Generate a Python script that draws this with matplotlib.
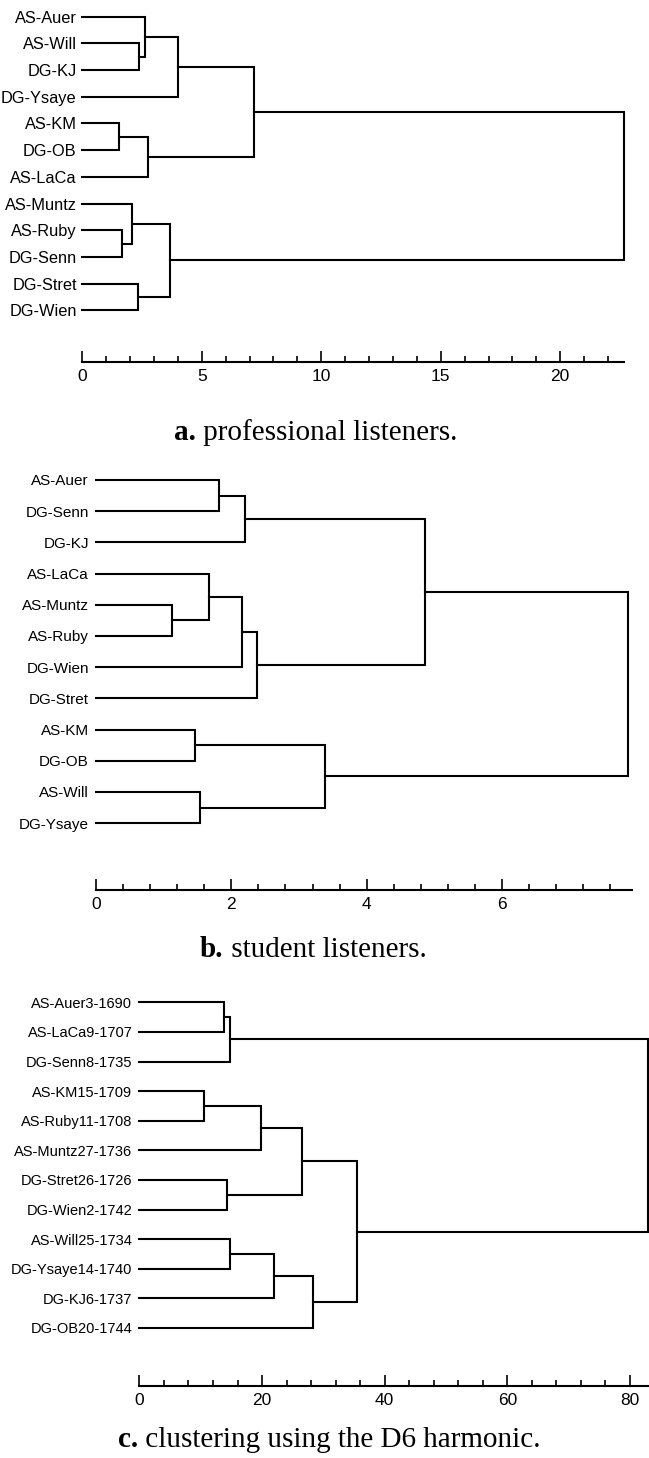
import matplotlib
matplotlib.use("Agg")
import matplotlib.pyplot as plt
from matplotlib.ticker import MultipleLocator

# panel a: professional listeners
labels_a = ["AS-Auer", "AS-Will", "DG-KJ", "DG-Ysaye", "AS-KM", "DG-OB", "AS-LaCa",
            "AS-Muntz", "AS-Ruby", "DG-Senn", "DG-Stret", "DG-Wien"]
# merges: (child, child, height); leaves 0..n-1, new clusters n, n+1, ...
merges_a = [(1, 2, 2.39), (0, 12, 2.62), (13, 3, 4.02), (4, 5, 1.55), (15, 6, 2.76),
            (14, 16, 7.18), (8, 9, 1.65), (7, 18, 2.07), (10, 11, 2.32), (19, 20, 3.67),
            (17, 21, 22.67)]
ticks_a = [0, 5, 10, 15, 20]

# panel b: student listeners
labels_b = ["AS-Auer", "DG-Senn", "DG-KJ", "AS-LaCa", "AS-Muntz", "AS-Ruby", "DG-Wien",
            "DG-Stret", "AS-KM", "DG-OB", "AS-Will", "DG-Ysaye"]
merges_b = [(0, 1, 1.82), (12, 2, 2.21), (4, 5, 1.13), (3, 14, 1.67), (15, 6, 2.16),
            (16, 7, 2.38), (13, 17, 4.86), (8, 9, 1.47), (10, 11, 1.54), (19, 20, 3.39),
            (18, 21, 7.86)]
ticks_b = [0, 2, 4, 6]

# panel c: D6 harmonic
labels_c = ["AS-Auer3-1690", "AS-LaCa9-1707", "DG-Senn8-1735", "AS-KM15-1709",
            "AS-Ruby11-1708", "AS-Muntz27-1736", "DG-Stret26-1726", "DG-Wien2-1742",
            "AS-Will25-1734", "DG-Ysaye14-1740", "DG-KJ6-1737", "DG-OB20-1744"]
merges_c = [(0, 1, 13.85), (12, 2, 14.78), (3, 4, 10.54), (14, 5, 19.79), (6, 7, 14.34),
            (15, 16, 26.47), (8, 9, 14.78), (18, 10, 21.96), (19, 11, 28.37),
            (17, 20, 35.5), (13, 21, 83.0)]
ticks_c = [0, 20, 40, 60, 80]

captions = [("a.", " professional listeners."),
            ("b.", " student listeners."),
            ("c.", " clustering using the D6 harmonic.")]

W, H = 649, 1458
fig = plt.figure(figsize=(W / 100, H / 100), dpi=100)
fig.patch.set_facecolor("white")

sans = ["Liberation Sans", "DejaVu Sans"]
serif = ["Liberation Serif", "DejaVu Serif"]


def dendro(labels, merges, ticks, minor, x0, x1, xmax, ytop, step, yaxis, lab_size, lab_pad=5):
    n = len(labels)
    top = ytop - 0.6 * step
    ax = fig.add_axes([x0 / W, 1 - yaxis / H, (x1 - x0) / W, (yaxis - top) / H])
    pos = {i: (0.0, float(i)) for i in range(n)}
    for k, (a, b, h) in enumerate(merges):
        xa, ya = pos[a]
        xb, yb = pos[b]
        ax.plot([xa, h, h, xb], [ya, ya, yb, yb], color="black", lw=1.5,
                solid_joinstyle="miter", clip_on=False)
        pos[n + k] = (h, (ya + yb) / 2)
    ax.set_xlim(0, xmax)
    ax.set_ylim((yaxis - ytop) / step, -0.6)
    for s in ["top", "right", "left"]:
        ax.spines[s].set_visible(False)
    ax.spines["bottom"].set_linewidth(1.5)
    ax.set_xticks(ticks)
    ax.xaxis.set_minor_locator(MultipleLocator(minor))
    ax.tick_params(axis="x", which="major", direction="in", length=8, width=1.2,
                   pad=5, labelsize=12.5)
    ax.tick_params(axis="x", which="minor", direction="in", length=4, width=1.2)
    for t in ax.get_xticklabels():
        t.set_family(sans)
    ax.set_yticks(range(n))
    ax.set_yticklabels(labels, family=sans, fontsize=lab_size)
    ax.tick_params(axis="y", length=0, pad=lab_pad)
    ax.set_facecolor("none")
    return ax


dendro(labels_a, merges_a, ticks_a, 1, 82.3, 624, 22.67, 16.7, 26.7, 362, 11.8, 4)
dendro(labels_b, merges_b, ticks_b, 0.4, 95.9, 632, 7.92, 480, 31.2, 890, 11)
dendro(labels_c, merges_c, ticks_c, 4, 139.4, 649, 83.1, 1002.3, 29.6, 1386, 10.5)

cap_pos = [(174, 440), (200, 957), (118, 1447)]
for (bold, rest), (cx, cy) in zip(captions, cap_pos):
    t = fig.text(cx / W, 1 - cy / H, bold, family=serif, fontweight="bold",
                 fontsize=21, va="baseline", ha="left")
    plt.annotate(rest, xy=(1, 0), xycoords=t, va="bottom", ha="left",
                 family=serif, fontsize=21)

fig.savefig("out.png", dpi=100)
